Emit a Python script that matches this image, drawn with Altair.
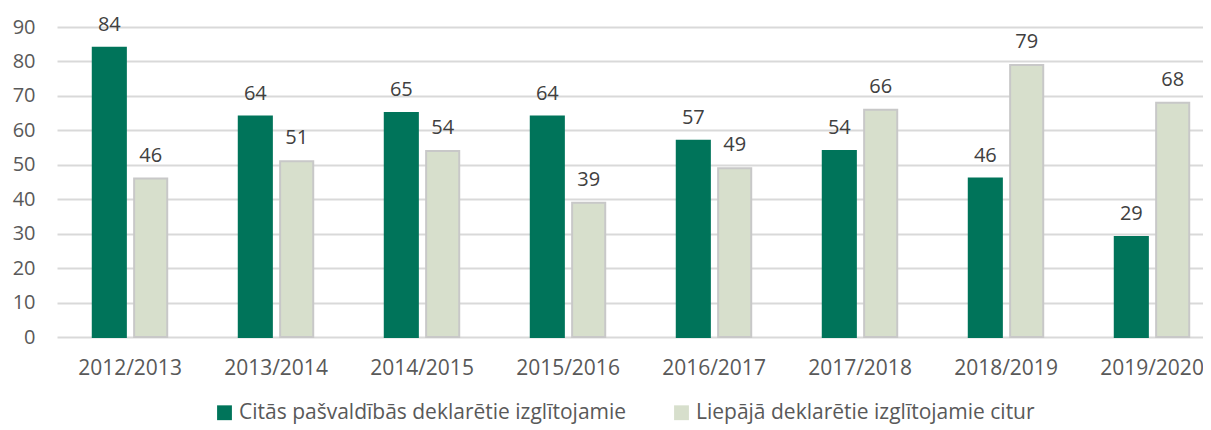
import altair as alt
import pandas as pd

years = ["2012/2013", "2013/2014", "2014/2015", "2015/2016",
         "2016/2017", "2017/2018", "2018/2019", "2019/2020"]
series_a = "Citās pašvaldībās deklarētie izglītojamie"
series_b = "Liepājā deklarētie izglītojamie citur"
values_a = [84, 64, 65, 64, 57, 54, 46, 29]
values_b = [46, 51, 54, 39, 49, 66, 79, 68]

rows = []
for y, a, b in zip(years, values_a, values_b):
    rows.append({"year": y, "series": series_a, "value": a})
    rows.append({"year": y, "series": series_b, "value": b})
df = pd.DataFrame(rows)

FONT = "Open Sans"
series_order = [series_a, series_b]

x_enc = alt.X("year:N", sort=years, title=None,
              scale=alt.Scale(range=[0, 1168], paddingInner=0.49, paddingOuter=0.245),
              axis=alt.Axis(labelAngle=0, labelFontSize=21, labelColor="#595959",
                            labelFont=FONT, ticks=False, domain=False, labelPadding=20))
xoff = alt.XOffset("series:N", sort=series_order,
                   scale=alt.Scale(paddingInner=0.2, paddingOuter=0))
y_enc = alt.Y("value:Q", title=None,
              scale=alt.Scale(domain=[0, 90], nice=False),
              axis=alt.Axis(values=list(range(0, 100, 10)), labelFontSize=20,
                            labelColor="#595959", labelFont=FONT, ticks=False,
                            labelOverlap=False,
                            domain=False, labelPadding=22, gridColor="#d9d9d9",
                            gridWidth=2))

color = alt.Color("series:N", sort=series_order, title=None,
                  scale=alt.Scale(domain=series_order, range=["#00745a", "#d7dfcc"]),
                  legend=alt.Legend(orient="none", legendX=157, legendY=375,
                                    direction="horizontal", symbolType="square",
                                    symbolSize=220, symbolStrokeWidth=0,
                                    labelFontSize=21, labelFont=FONT,
                                    labelColor="#595959", columnPadding=44,
                                    labelLimit=600, symbolOffset=0))

base = alt.Chart(df).encode(x=x_enc, xOffset=xoff, y=y_enc)

bars = base.mark_bar().encode(
    color=color,
    stroke=alt.Stroke("series:N", sort=series_order,
                      scale=alt.Scale(domain=series_order, range=["#00745a", "#c8c8c8"]),
                      legend=None),
    strokeWidth=alt.value(2),
)

labels = base.mark_text(fontSize=20, font=FONT, color="#404040",
                        baseline="alphabetic", dy=-17).encode(text="value:Q")

chart = alt.layer(bars, labels).properties(
    width=1146, height=310,
    autosize=alt.AutoSizeParams(type="none"),
    padding={"left": 49, "top": 19, "right": 0, "bottom": 89},
).configure_view(stroke=None)

chart.save("out.html", embed_options={"renderer": "svg", "actions": False})
